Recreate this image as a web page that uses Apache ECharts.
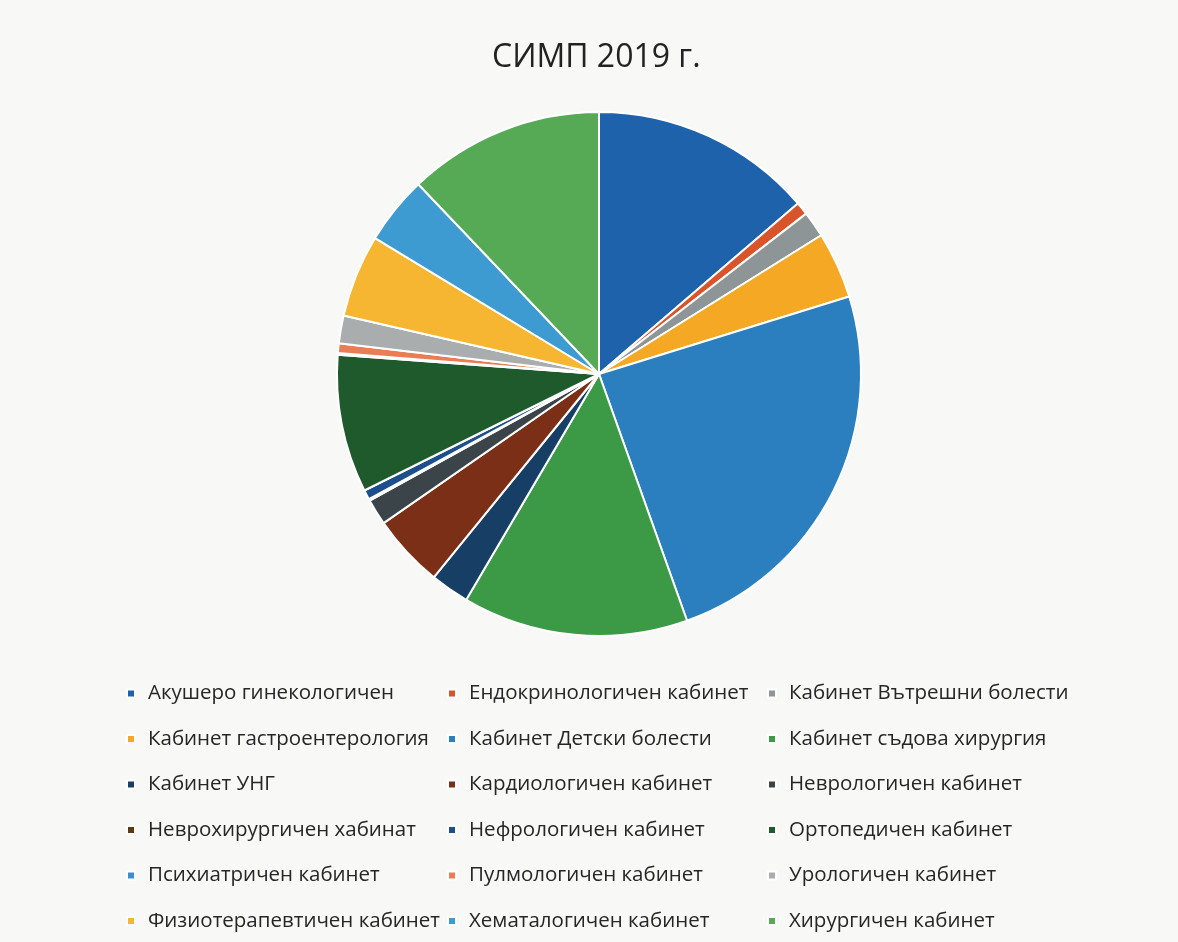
<!DOCTYPE html>
<html>
<head>
<meta charset="utf-8">
<script src="https://cdn.jsdelivr.net/npm/echarts@6/dist/echarts.min.js"></script>
<style>
html,body{margin:0;padding:0;background:#f8f8f7;}
#chart{width:1178px;height:942px;}
</style>
</head>
<body>
<div id="chart"></div>
<script>
const categories = [
  'Акушеро гинекологичен',
  'Ендокринологичен кабинет',
  'Кабинет Вътрешни болести',
  'Кабинет гастроентерология',
  'Кабинет Детски болести',
  'Кабинет съдова хирургия',
  'Кабинет УНГ',
  'Кардиологичен кабинет',
  'Неврологичен кабинет',
  'Неврохирургичен хабинат',
  'Нефрологичен кабинет',
  'Ортопедичен кабинет',
  'Психиатричен кабинет',
  'Пулмологичен кабинет',
  'Урологичен кабинет',
  'Физиотерапевтичен кабинет',
  'Хематалогичен кабинет',
  'Хирургичен кабинет'
];
const values = [137, 8, 16, 41, 243, 139, 24, 45, 16, 1, 6, 85, 1, 6, 17, 51, 42, 121];
const colors = ['#1f62ac', '#d9532b', '#8e9597', '#f5a823', '#2b7fbe', '#3c9a46',
                '#173f66', '#7a2f16', '#3b4448', '#5a3a12', '#1d4f8c', '#1e5a2b',
                '#3e8fcf', '#e87e55', '#a9adae', '#f6b631', '#3d9bd2', '#56aa56'];

const chart = echarts.init(document.getElementById('chart'));
const data = categories.map((n, i) => ({ name: n, value: values[i], itemStyle: { color: colors[i] } }));

function col(k) {
  return categories.filter((_, i) => i % 3 === k);
}
const legendBase = {
  orient: 'vertical',
  icon: 'rect',
  itemWidth: 8,
  itemHeight: 8,
  itemGap: 24.5,
  padding: 0,
  textStyle: { fontFamily: 'Open Sans', fontSize: 20.5, color: '#262626', padding: [0, 0, 0, 8] },
  top: 683
};
const option = {
  backgroundColor: '#f8f8f7',
  title: {
    text: 'СИМП 2019 г.',
    left: 492,
    top: 42,
    padding: 0,
    textStyle: { fontFamily: 'Open Sans', fontSize: 32, fontWeight: 'normal', color: '#222' }
  },
  legend: [
    Object.assign({}, legendBase, { data: col(0), left: 126 }),
    Object.assign({}, legendBase, { data: col(1), left: 447 }),
    Object.assign({}, legendBase, { data: col(2), left: 767 })
  ],
  series: [{
    type: 'pie',
    center: [599, 374],
    radius: 262,
    startAngle: 90,
    clockwise: true,
    label: { show: false },
    labelLine: { show: false },
    emphasis: { disabled: true },
    itemStyle: { borderColor: '#ffffff', borderWidth: 2 },
    data: data
  }]
};
chart.setOption(option);
</script>
</body>
</html>
